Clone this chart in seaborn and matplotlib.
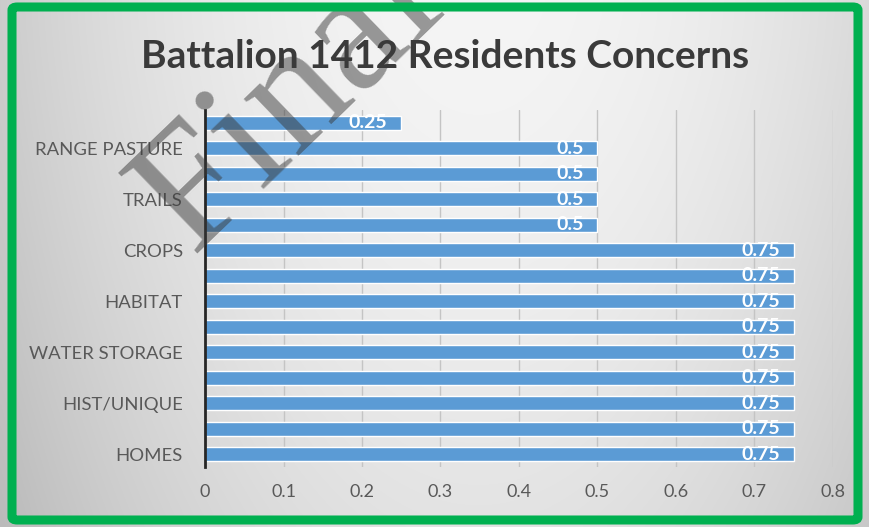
import numpy as np
import pandas as pd
import matplotlib
matplotlib.use("Agg")
import matplotlib.pyplot as plt
from matplotlib.patches import FancyBboxPatch
import seaborn as sns

# Concern rows, listed bottom to top; only every other row carries a label
row_labels = ["HOMES", "", "HIST/UNIQUE", "", "WATER STORAGE", "", "HABITAT", "",
              "CROPS", "", "TRAILS", "", "RANGE PASTURE", ""]
scores = [0.75, 0.75, 0.75, 0.75, 0.75, 0.75, 0.75, 0.75, 0.75,
          0.5, 0.5, 0.5, 0.5, 0.25]
x_ticks = [0, 0.1, 0.2, 0.3, 0.4, 0.5, 0.6, 0.7, 0.8]
title = "Battalion 1412 Residents Concerns"

df = pd.DataFrame({"row": [str(i) for i in range(len(scores))], "score": scores})
order = [str(i) for i in reversed(range(len(scores)))]  # top row first

sns.set_theme(style="white")
plt.rcParams["font.family"] = ["Lato", "DejaVu Sans"]

W, H = 870, 527
fig = plt.figure(figsize=(W / 100, H / 100), dpi=100)

# soft grey backdrop, brightest near the upper middle
bg = fig.add_axes([0, 0, 1, 1], zorder=-10)
gx, gy = np.meshgrid(np.linspace(0, 1, 400), np.linspace(0, 1, 250))
shade = 0.96 - 0.16 * ((gx - 0.55) / 0.55) ** 2 - 0.07 * gy ** 1.5
bg.imshow(np.dstack([shade] * 3), extent=[0, 1, 0, 1], aspect="auto",
          interpolation="bilinear", origin="upper")
bg.set_axis_off()

ax = fig.add_axes([205 / W, 1 - 467 / H, (833 - 205) / W, (467 - 110) / H])
ax.set_facecolor("none")
sns.barplot(data=df, x="score", y="row", order=order, orient="h",
            color="#5b9bd5", saturation=1, width=0.56, ax=ax, zorder=3)

ax.set_xlim(0, 0.8)
ax.set_xticks(x_ticks)
ax.set_xticklabels([f"{t:g}" for t in x_ticks], fontsize=13, color="#595959")
ax.set_yticks(range(len(order)))
ax.set_yticklabels([row_labels[int(r)] for r in order], fontsize=13.3, color="#595959")
ax.tick_params(axis="both", length=0)
ax.tick_params(axis="x", pad=12)
ax.tick_params(axis="y", pad=16)
ax.set_xlabel("")
ax.set_ylabel("")
ax.xaxis.grid(True, color="#c4c4c4", linewidth=1.0, zorder=0)
ax.set_axisbelow(True)
for side in ["top", "right", "bottom"]:
    ax.spines[side].set_visible(False)
ax.spines["left"].set_color("#262626")
ax.spines["left"].set_linewidth(2)
ax.spines["left"].set_zorder(4)

for cont in ax.containers:
    texts = ax.bar_label(cont, labels=[f"{v:g}" for v in cont.datavalues],
                         padding=-10, color="white", fontsize=14, fontweight="bold")
    for t in texts:
        t.set_ha("right")

fig.text(445 / W, 1 - 57 / H, title, ha="center", va="center",
         fontsize=28, fontweight="bold", color="#3a3a3a")

# diagonal watermark, partly running off the top edge
fig.text(290 / W, 1 - 102 / H, "Final", rotation=44, rotation_mode="anchor",
         ha="center", va="center", fontsize=124, family="Liberation Serif",
         color="#3a3a3a", alpha=0.5, zorder=20, clip_on=False)

# green frame
frame = FancyBboxPatch((12 / W, 7 / H), (W - 24) / W, (H - 14) / H,
                       boxstyle="round,pad=0,rounding_size=0.006",
                       transform=fig.transFigure, fill=False,
                       edgecolor="#00b050", linewidth=6.5, zorder=30)
fig.patches.append(frame)

fig.savefig("out.png", dpi=100)
